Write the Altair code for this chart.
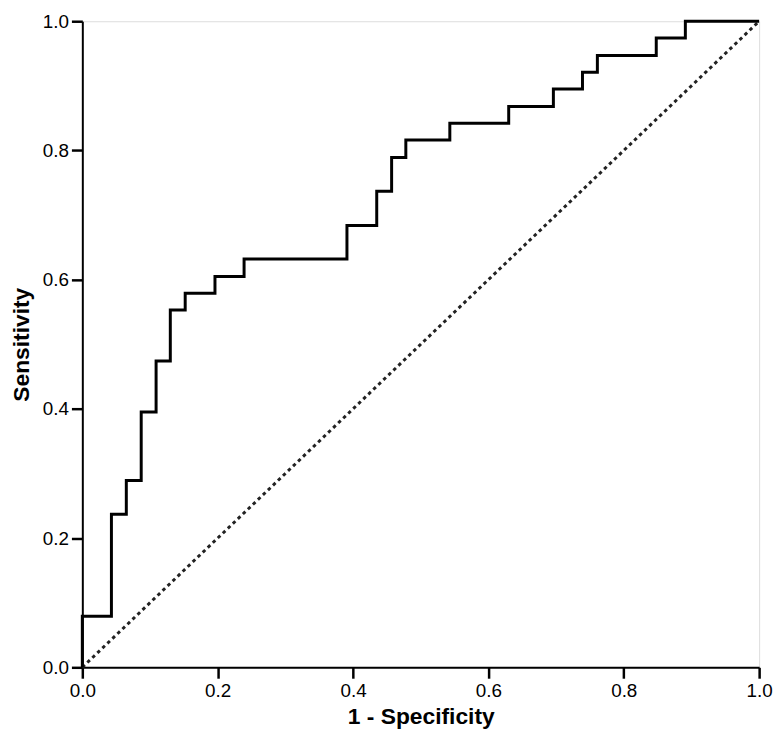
import altair as alt
import pandas as pd

# ROC curve points (1 - specificity, sensitivity)
fpr = [0.0, 0.0, 0.043, 0.065, 0.087, 0.109, 0.130, 0.152, 0.196, 0.239, 0.391,
       0.435, 0.457, 0.478, 0.543, 0.630, 0.696, 0.739, 0.761, 0.848, 0.891, 1.0]
tpr = [0.0, 0.079, 0.237, 0.289, 0.395, 0.474, 0.553, 0.579, 0.605, 0.632, 0.684,
       0.737, 0.789, 0.816, 0.842, 0.868, 0.895, 0.921, 0.947, 0.974, 1.0, 1.0]

# reference diagonal
diag_x = [0.0, 1.0]
diag_y = [0.0, 1.0]

tick_values = [0.0, 0.2, 0.4, 0.6, 0.8, 1.0]

roc = pd.DataFrame({"fpr": fpr, "tpr": tpr, "order": list(range(len(fpr)))})
diag = pd.DataFrame({"fpr": diag_x, "tpr": diag_y, "order": [0, 1]})

FONT = "Liberation Sans"

common_axis = dict(
    values=tick_values,
    format=".1f",
    grid=False,
    ticks=True,
    tickSize=11,
    tickWidth=2.5,
    tickColor="black",
    tickOpacity=1,
    domainColor="black",
    domainWidth=2,
    labelFont=FONT,
    labelFontSize=19,
    labelColor="black",
    labelPadding=3,
    labelFlush=False,
    labelOverlap=False,
    titleFont=FONT,
    titleFontSize=23,
    titleFontWeight="bold",
    titleColor="black",
)

x_enc = alt.X(
    "fpr:Q",
    scale=alt.Scale(domain=[0, 1], nice=False, zero=False),
    axis=alt.Axis(title="1 - Specificity", titlePadding=6, **common_axis),
)
y_enc = alt.Y(
    "tpr:Q",
    scale=alt.Scale(domain=[0, 1], nice=False, zero=False),
    axis=alt.Axis(title="Sensitivity", titleX=-54, titleBaseline="alphabetic",
                  **common_axis),
)

diag_line = alt.Chart(diag).mark_line(
    color="#222222", strokeWidth=3, strokeDash=[3.5, 3.5]
).encode(x=x_enc, y=y_enc, order="order:Q")

roc_line = alt.Chart(roc).mark_line(
    color="black", strokeWidth=3, interpolate="step-after", strokeJoin="miter"
).encode(x=x_enc, y=y_enc, order="order:Q")

chart = (
    alt.layer(diag_line, roc_line)
    .properties(
        width=683,
        height=652,
        autosize=alt.AutoSizeParams(type="none"),
        padding={"left": 75, "top": 10, "right": 14, "bottom": 70},
    )
    .configure_view(stroke="#888888", strokeWidth=2)
    .configure(background="white")
)

chart.save("out.html", embed_options={"renderer": "svg", "actions": False})
